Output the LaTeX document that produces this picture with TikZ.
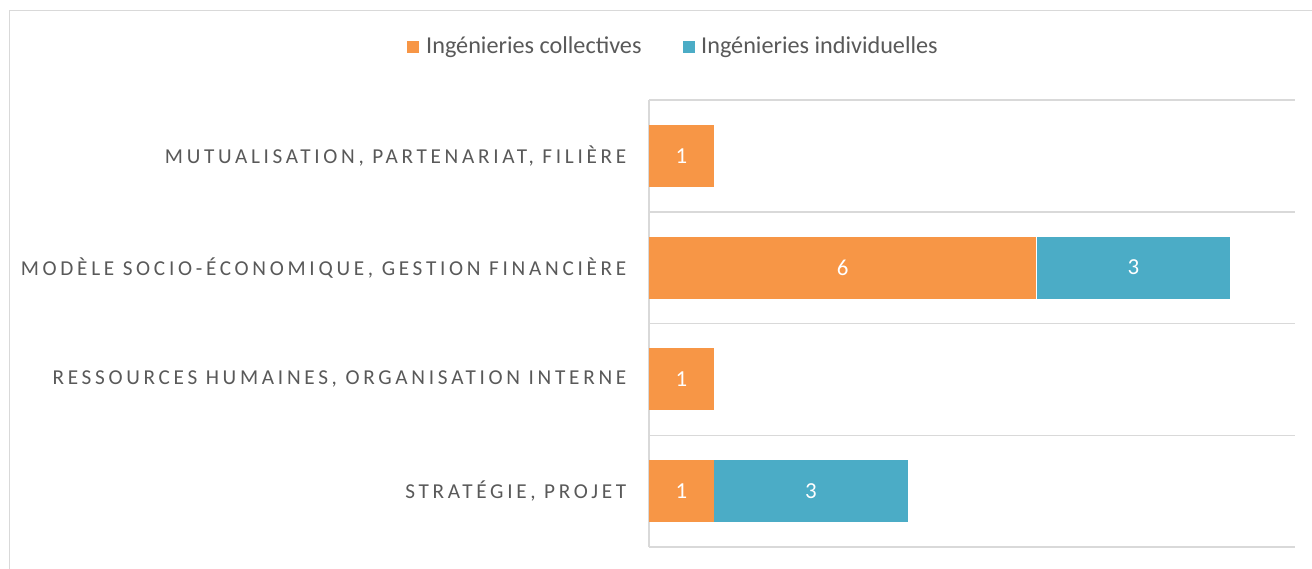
\documentclass[tikz,border=0pt]{standalone}
\usepackage{fontspec}
\setmainfont{Carlito}
\newfontfamily\labfont[LetterSpace=17.5]{Carlito}
\definecolor{orng}{HTML}{F79646}
\definecolor{teal}{HTML}{4BACC6}
\definecolor{grid}{HTML}{D9D9D9}
\definecolor{txt}{HTML}{595959}
\begin{document}
\begin{tikzpicture}[x=1bp,y=-1bp,
  gridline/.style={draw=grid,line width=1.5bp},
  catlabel/.style={anchor=east,text=txt,font=\labfont\fontsize{21.3}{24}\selectfont,inner sep=0},
  barO/.style={fill=orng,draw=none},
  barT/.style={fill=teal,draw=none},
  val/.style={text=white,font=\fontsize{23}{27}\selectfont},
  legtxt/.style={anchor=west,text=txt,font=\fontsize{24.3}{28}\selectfont,inner sep=0},
  legbox/.style={minimum size=12.5bp,inner sep=0}]
\useasboundingbox (0,0) rectangle (1312,569);
\fill[white] (0,0) rectangle (1312,569);
% outer frame
\draw[draw=grid,line width=1.5bp] (9.5,580) -- (9.5,10.5) -- (1320,10.5);
% grid
\foreach \y in {100,211.75,323.5,435.25,547}{
  \draw[gridline] (649,\y) -- (1295,\y);
}
\draw[gridline] (649,100) -- (649,547);
% bars
\node[barO,minimum width=64.5bp,minimum height=62bp,anchor=west] (b1) at (649,155.9) {};
\node[val] at (b1) {1};
\node[barO,minimum width=387bp,minimum height=62bp,anchor=west] (b2o) at (649,267.6) {};
\node[val] at (b2o) {6};
\node[barT,minimum width=193.5bp,minimum height=62bp,anchor=west] (b2t) at (b2o.east) {};
\node[val] at (b2t) {3};
\node[barO,minimum width=64.5bp,minimum height=62bp,anchor=west] (b3) at (649,379.4) {};
\node[val] at (b3) {1};
\node[barO,minimum width=64.5bp,minimum height=62bp,anchor=west] (b4o) at (649,491.1) {};
\node[val] at (b4o) {1};
\node[barT,minimum width=193.5bp,minimum height=62bp,anchor=west] (b4t) at (b4o.east) {};
\node[val] at (b4t) {3};
% labels
\node[catlabel] (l1) at (626.5,155.9) {MUTUALISATION, PARTENARIAT, FILIÈRE};
\node[catlabel] (l2) at (626.5,267.6) {MODÈLE SOCIO-ÉCONOMIQUE, GESTION FINANCIÈRE};
\node[catlabel] (l3) at (626.5,379.4) {RESSOURCES HUMAINES, ORGANISATION INTERNE};
\node[catlabel] (l4) at (626.5,491.1) {STRATÉGIE, PROJET};
% legend
\node[legbox,fill=orng] (k1) at (413,47) {};
\node[legtxt] (t1) at (426,47) {Ingénieries collectives};
\node[legbox,fill=teal] (k2) at (689,47) {};
\node[legtxt] (t2) at (701,47) {Ingénieries individuelles};
\end{tikzpicture}
\end{document}
